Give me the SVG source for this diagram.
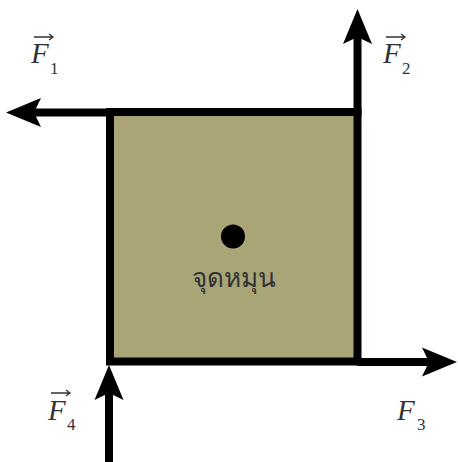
<svg xmlns="http://www.w3.org/2000/svg" width="458" height="462" viewBox="0 0 458 462">
<style>
.shaft{stroke:#000;stroke-width:8;fill:none}
.F{font-family:"Liberation Serif",serif;font-style:italic;font-size:29px;fill:#333}
.sub{font-family:"Liberation Serif",serif;font-size:17px;fill:#333}
.vec{stroke:#333;stroke-width:1.3;fill:none}
.lbl{font-family:"Noto Sans","DejaVu Sans",sans-serif;font-size:26px;fill:#333}
</style>
<defs>
<marker id="head" viewBox="-36 -15 37 30" refX="-28" refY="0" markerWidth="37" markerHeight="30" markerUnits="userSpaceOnUse" orient="auto">
<path d="M0,0 L-35,-14.5 L-28,0 L-35,14.5 Z" fill="#000"/>
</marker>
</defs>
<g id="body">
<rect x="110" y="112" width="247.5" height="249.5" fill="#a9a577" stroke="#000" stroke-width="8"/>
</g>
<g id="pivot">
<circle cx="233" cy="236.5" r="12" fill="#000"/>
<text class="lbl" x="234" y="287" text-anchor="middle">จุดหมุน</text>
</g>
<g id="connectors">
<line class="shaft" x1="110" y1="112.5" x2="34" y2="112.5" marker-end="url(#head)"/>
<line class="shaft" x1="357.5" y1="116" x2="357.5" y2="37" marker-end="url(#head)"/>
<line class="shaft" x1="357" y1="362" x2="429" y2="362" marker-end="url(#head)"/>
<line class="shaft" x1="109" y1="462" x2="109" y2="393" marker-end="url(#head)"/>
</g>
<g id="label-F1">
<path class="vec" d="M34,37 H53 M49,34 L53,37 L49,40"/>
<text class="F" x="31" y="63">F</text>
<text class="sub" x="50" y="74">1</text>
</g>
<g id="label-F2">
<path class="vec" d="M386,37 H405 M401,34 L405,37 L401,40"/>
<text class="F" x="383" y="63">F</text>
<text class="sub" x="402" y="74">2</text>
</g>
<g id="label-F3">
<text class="F" x="397" y="420">F</text>
<text class="sub" x="417" y="430">3</text>
</g>
<g id="label-F4">
<path class="vec" d="M51,393 H70 M66,390 L70,393 L66,396"/>
<text class="F" x="48" y="420">F</text>
<text class="sub" x="67" y="430">4</text>
</g>
</svg>
